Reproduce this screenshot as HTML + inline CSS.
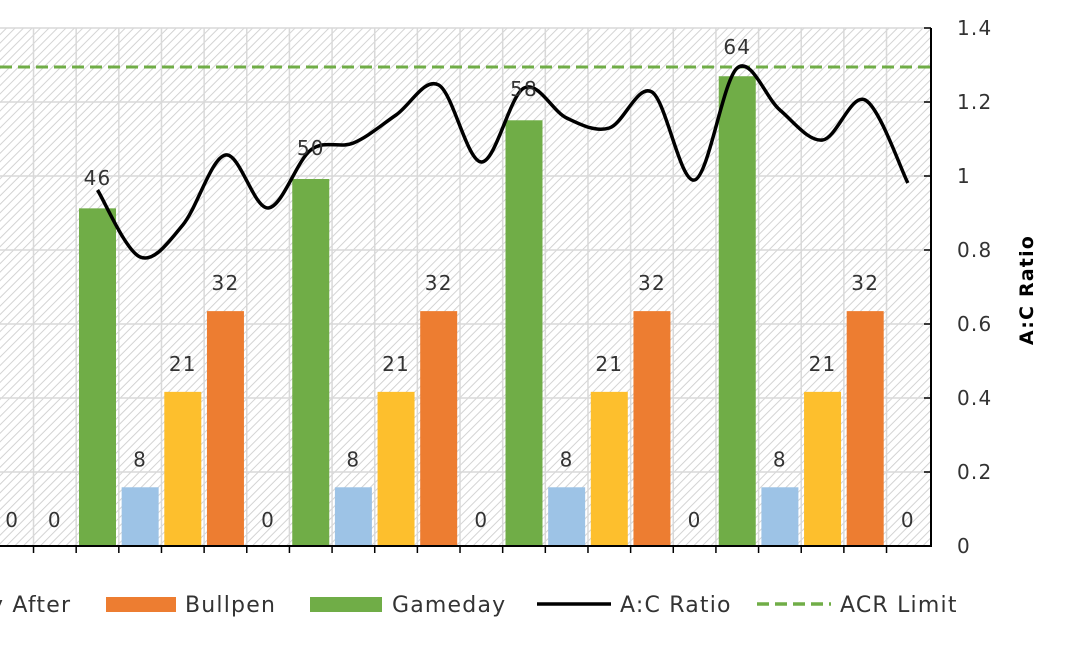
<!DOCTYPE html>
<html><head><style>
body{margin:0;background:#fff;}
svg{display:block;font-family:"DejaVu Sans","Liberation Sans",sans-serif;}
text{letter-spacing:1.2px;}
</style></head><body>
<svg id="s" width="1080" height="667" xmlns="http://www.w3.org/2000/svg">
<defs>
<pattern id="h" width="6" height="6" patternUnits="userSpaceOnUse" patternTransform="rotate(45)">
<rect width="6" height="6" fill="#fff"/><line x1="0" y1="0" x2="0" y2="6" stroke="#cfcfcf" stroke-width="1.8"/>
</pattern>
</defs>
<rect x="0" y="28" width="931" height="518" fill="url(#h)"/>
<g id="g"></g>
</svg>
<script>
const s=document.getElementById('g');const NS='http://www.w3.org/2000/svg';
function el(t,a,txt){const e=document.createElementNS(NS,t);for(const k in a)e.setAttribute(k,a[k]);if(txt!==undefined)e.textContent=txt;s.appendChild(e);return e;}
const W=42.65,c=i=>97.5+(i-2)*W,base=546,k=7.34;
for(let j=0;j<7;j++){const y=28+74*j;el('line',{x1:0,x2:931,y1:y,y2:y,stroke:'#d9d9d9','stroke-width':1.5});}
for(let i=0;i<22;i++){const x=c(i)-W/2;if(x>0)el('line',{x1:x,x2:x,y1:28,y2:546,stroke:'#d9d9d9','stroke-width':1.5});}
const col={G:'#70ad47',B:'#9dc3e6',Y:'#fdbf2d',O:'#ed7d31'};
const seq=['0','0','G46','B8','Y21','O32','0','G50','B8','Y21','O32','0','G58','B8','Y21','O32','0','G64','B8','Y21','O32','0'];
seq.forEach((v,i)=>{const x=c(i);if(v==='0'){el('text',{x:x,y:527,'font-size':20,'text-anchor':'middle',fill:'#333'},'0');return;}
const t=v[0],n=+v.slice(1),h=n*k;el('rect',{x:x-18.5,y:base-h,width:37,height:h,fill:col[t]});
if(t!=='G')el('text',{x:x,y:base-h-21,'font-size':20,'text-anchor':'middle',fill:'#333'},n);});
el('line',{x1:0,x2:931,y1:67,y2:67,stroke:'#70ad47','stroke-width':3,'stroke-dasharray':'12 6'});
const ys=[190,257,225,155,208,150,143,115,85,162,88,118,128,92,180,68,110,140,100,183];
const p=ys.map((y,j)=>[c(j+2),y]);
let d='M'+p[0][0]+','+p[0][1];
for(let j=0;j<p.length-1;j++){const p0=p[j-1]||p[j],p1=p[j],p2=p[j+1],p3=p[j+2]||p2;
d+=` C${p1[0]+(p2[0]-p0[0])/6},${p1[1]+(p2[1]-p0[1])/6} ${p2[0]-(p3[0]-p1[0])/6},${p2[1]-(p3[1]-p1[1])/6} ${p2[0]},${p2[1]}`;}
el('path',{d:d,fill:'none',stroke:'#000','stroke-width':3.5});
[[2,46,185],[7,50,155],[12,58,96],[17,64,54]].forEach(a=>el('text',{x:c(a[0]),y:a[2],'font-size':20,'text-anchor':'middle',fill:'#333'},a[1]));
el('line',{x1:0,x2:931,y1:546,y2:546,stroke:'#000','stroke-width':2});
el('line',{x1:931,x2:931,y1:28,y2:547,stroke:'#000','stroke-width':2});
for(let i=0;i<22;i++){const x=c(i)-W/2;if(x>0)el('line',{x1:x,x2:x,y1:546,y2:553,stroke:'#000','stroke-width':1.5});}
['0','0.2','0.4','0.6','0.8','1','1.2','1.4'].forEach((t,j)=>{const y=546-74*j;
el('line',{x1:924,x2:931,y1:y,y2:y,stroke:'#000','stroke-width':1.5});
el('text',{x:957,y:y+7,'font-size':20,fill:'#333'},t);});
el('text',{x:1033,y:290,'font-size':19,'font-weight':'bold','text-anchor':'middle',fill:'#000',transform:'rotate(-90 1033 290)'},'A:C Ratio');
el('text',{x:-10,y:612,'font-size':22,fill:'#333'},'y After');
el('rect',{x:106,y:597,width:70,height:15,fill:'#ed7d31'});el('text',{x:185,y:612,'font-size':22,fill:'#333'},'Bullpen');
el('rect',{x:310,y:597,width:72,height:15,fill:'#70ad47'});el('text',{x:392,y:612,'font-size':22,fill:'#333'},'Gameday');
el('line',{x1:537,x2:611,y1:604,y2:604,stroke:'#000','stroke-width':3.5});el('text',{x:620,y:612,'font-size':22,fill:'#333'},'A:C Ratio');
el('line',{x1:757,x2:831,y1:604,y2:604,stroke:'#70ad47','stroke-width':3.5,'stroke-dasharray':'12 6'});el('text',{x:840,y:612,'font-size':22,fill:'#333'},'ACR Limit');
</script>
</body></html>
